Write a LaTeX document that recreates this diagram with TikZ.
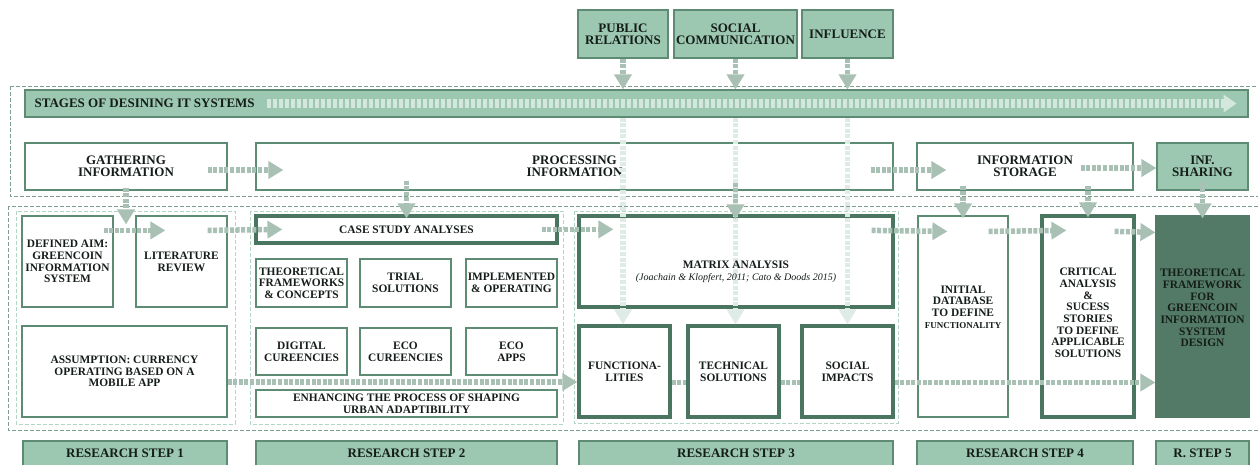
\documentclass[tikz,border=0pt]{standalone}
\usepackage{fontspec}
\setmainfont{Liberation Serif}
\usetikzlibrary{arrows.meta,calc,positioning}
\definecolor{Sage}{HTML}{9CC7B0}
\definecolor{Pine}{HTML}{5E8B73}
\definecolor{PineDeep}{HTML}{4A7560}
\definecolor{Forest}{HTML}{537A67}
\definecolor{Smoke}{HTML}{A8C1B4}
\definecolor{Haze}{HTML}{DFECE5}
\definecolor{Foam}{HTML}{D3E7DC}
\definecolor{Frame}{HTML}{7E9E8E}
\definecolor{FrameLight}{HTML}{B3D6C5}
\definecolor{Night}{HTML}{151D19}
\tikzset{
  bigfont/.style={font=\fontsize{13}{11.6}\selectfont\bfseries},
  smallfont/.style={font=\fontsize{11.4}{11.7}\selectfont\bfseries},
  sagebox/.style={
    draw=Pine, line width=1.2pt, fill=Sage, text=Night,
    inner sep=0pt, align=center, bigfont
  },
  plainbox/.style={
    draw=Pine, line width=1.2pt, fill=white, text=Night,
    inner sep=0pt, align=center, smallfont
  },
  heavybox/.style={
    draw=PineDeep, line width=3.2pt, fill=white, text=Night,
    inner sep=0pt, align=center, smallfont
  },
  darkbox/.style={
    draw=Forest, line width=1.2pt, fill=Forest, inner sep=0pt
  },
  stageframe/.style={draw=Frame, line width=0.9pt, dash pattern=on 4pt off 2pt},
  stepframe/.style={draw=FrameLight, line width=0.9pt, dash pattern=on 4pt off 2pt},
  flow/.style={-{Triangle[length=15pt,width=17pt]}, draw=Smoke,
    line width=5.5pt, dash pattern=on 4pt off 1.6pt},
  faintflow/.style={flow, draw=Haze},
  barflow/.style={-{Triangle[length=13pt,width=17pt]}, draw=Foam,
    line width=9pt, dash pattern=on 4pt off 2pt},
  linkflow/.style={draw=Smoke, line width=5.5pt, dash pattern=on 4pt off 1.6pt}
}
\begin{document}
\begin{tikzpicture}[x=1pt,y=-1pt]
  \useasboundingbox[fill=white] (0,0) rectangle (1258,464);
  \draw[stageframe] (10,86) rectangle (1270,196);
  \draw[stageframe] (8,206) rectangle (1270,430);
  \draw[stepframe] (16,211) rectangle (235,424);
  \draw[stepframe] (250,211) rectangle (563,424);
  \draw[stepframe] (574,211) rectangle (898,423);

  \node[sagebox,minimum width=90,minimum height=48] (pr) at (623,34) {PUBLIC\\RELATIONS};
  \node[sagebox,minimum width=123,minimum height=48] (social) at (735.5,34) {SOCIAL\\COMMUNICATION};
  \node[sagebox,minimum width=91,minimum height=48] (infl) at (847.5,34) {INFLUENCE};

  \node[sagebox,minimum width=1223,minimum height=27] (bar) at (636.5,103.5) {};
  \node[bigfont,text=Night,inner sep=0pt,right=10pt of bar.west] (stagelabel) {STAGES OF DESINING IT SYSTEMS};

  \node[plainbox,bigfont,minimum width=202,minimum height=47] (gather) at (126,166.5) {GATHERING\\INFORMATION};
  \node[plainbox,bigfont,minimum width=637,minimum height=47] (proc) at (574.5,166.5) {PROCESSING\\INFORMATION};
  \node[plainbox,bigfont,minimum width=216,minimum height=47] (store) at (1025,166.5) {INFORMATION\\STORAGE};
  \node[sagebox,minimum width=91,minimum height=47] (share) at (1202.5,166.5) {INF.\\SHARING};

  \node[plainbox,minimum width=91,minimum height=91] (aim) at (67.5,261.5) {DEFINED AIM:\\GREENCOIN\\INFORMATION\\SYSTEM};
  \node[plainbox,minimum width=91,minimum height=91] (litrev) at (181.5,261.5) {LITERATURE\\REVIEW};
  \node[plainbox,minimum width=205,minimum height=91] (assume) at (124.5,371.5) {ASSUMPTION: CURRENCY\\OPERATING BASED ON A\\MOBILE APP};

  \node[heavybox,minimum width=301,minimum height=27] (cases) at (406.5,229.5) {CASE STUDY ANALYSES};
  \node[plainbox,minimum width=91,minimum height=48] (theory) at (301.5,283) {THEORETICAL\\FRAMEWORKS\\\& CONCEPTS};
  \node[plainbox,minimum width=91,minimum height=48] (trial) at (405.5,283) {TRIAL\\SOLUTIONS};
  \node[plainbox,minimum width=91,minimum height=48] (implem) at (511.5,283) {IMPLEMENTED\\\& OPERATING};
  \node[plainbox,minimum width=91,minimum height=47] (digital) at (301.5,351.5) {DIGITAL\\CUREENCIES};
  \node[plainbox,minimum width=91,minimum height=47] (ecocur) at (405.5,351.5) {ECO\\CUREENCIES};
  \node[plainbox,minimum width=91,minimum height=47] (ecoapp) at (511.5,351.5) {ECO\\APPS};
  \node[plainbox,minimum width=301,minimum height=27] (enhance) at (406.5,403.5) {ENHANCING THE PROCESS OF SHAPING\\URBAN ADAPTIBILITY};

  \node[heavybox,minimum width=314,minimum height=91] (matrix) at (736,261.5) {};
  \node[heavybox,minimum width=91,minimum height=91] (func) at (624.5,371.5) {FUNCTIONA-\\LITIES};
  \node[heavybox,minimum width=91,minimum height=91] (tech) at (733.5,371.5) {TECHNICAL\\SOLUTIONS};
  \node[heavybox,minimum width=91,minimum height=91] (impact) at (847.5,371.5) {SOCIAL\\IMPACTS};

  \node[plainbox,minimum width=90,minimum height=201] (dbase) at (963,316.5) {};
  \node[heavybox,minimum width=92,minimum height=201] (critic) at (1088,316.5) {};
  \node[darkbox,minimum width=93,minimum height=201] (design) at (1202.5,316.5) {};

  \node[sagebox,minimum width=204,minimum height=25] (step1) at (125,453.5) {RESEARCH STEP 1};
  \node[sagebox,minimum width=301,minimum height=25] (step2) at (406.5,453.5) {RESEARCH STEP 2};
  \node[sagebox,minimum width=314,minimum height=25] (step3) at (736,453.5) {RESEARCH STEP 3};
  \node[sagebox,minimum width=216,minimum height=25] (step4) at (1025,453.5) {RESEARCH STEP 4};
  \node[sagebox,minimum width=93,minimum height=25] (step5) at (1202.5,453.5) {R. STEP 5};

  \draw[barflow] ($(bar.west)+(243,0)$) -- ($(bar.east)+(-12,0)$);
  \foreach \src/\dst in {pr/func,social/tech,infl/impact}{
    \draw[faintflow] (\src.south |- bar.south) -- (\src.south |- \dst.north);
    \draw[flow] (\src.south) -- (\src.south |- bar.north);
  }
  \draw[flow] ($(social.south |- proc.south)+(0,-8)$) -- ($(social.south |- matrix.north)+(0,5)$);
  \draw[flow] ($(gather.south)+(0,-3)$) -- ($(gather.south |- aim.north)+(0,9)$);
  \draw[flow] ($(cases.north |- proc.south)+(0,-10)$) -- ($(cases.north)+(0,4)$);
  \draw[flow] ($(dbase.north |- store.south)+(0,-5)$) -- ($(dbase.north)+(0,3)$);
  \draw[flow] ($(critic.north |- store.south)+(0,-5)$) -- ($(critic.north)+(0,3)$);
  \draw[flow] ($(design.north |- share.south)+(0,-8)$) -- ($(design.north)+(0,3)$);

  \draw[flow] ($(gather.east)+(-20,3.5)$) -- ($(proc.west)+(28,3.5)$);
  \draw[flow] ($(proc.east)+(-23,3.5)$) -- ($(store.west)+(30,3.5)$);
  \draw[flow] ($(store.east)+(-53,1.5)$) -- ($(share.west)+(0,1.5)$);

  \draw[flow] ($(aim.north east)+(-10,15)$) -- ($(litrev.north west)+(30,15)$);
  \draw[flow] ($(litrev.north east)+(-20,15)$) -- ($(cases.north west)+(28,15)$);
  \draw[flow] ($(cases.north east)+(-17,15)$) -- ($(matrix.north west)+(36,15)$);
  \draw[flow] ($(matrix.north east)+(-23,16)$) -- ($(dbase.north west)+(30,16)$);
  \draw[flow] ($(dbase.north east)+(-20,16)$) -- ($(critic.north west)+(26,16)$);
  \draw[flow] ($(critic.north east)+(-21,17)$) -- ($(design.north west)+(0,17)$);

  \draw[flow] ($(assume.east)+(0,10.5)$) -- ($(func.west)+(0,10.5)$);
  \draw[linkflow] ($(func.east)+(0,11)$) -- ($(tech.west)+(0,11)$);
  \draw[linkflow] ($(tech.east)+(0,11)$) -- ($(impact.west)+(0,11)$);
  \draw[flow] ($(impact.east)+(0,11)$) -- ($(impact.east -| design.west)+(0,11)$);

  \node[smallfont,text=Night,align=center,inner sep=0pt] (matrixtext) at ($(matrix.center)+(0,10)$)
    {MATRIX ANALYSIS\\{\fontsize{10}{12}\selectfont\mdseries\itshape (Joachain \& Klopfert, 2011; Cato \& Doods 2015)}};
  \node[smallfont,text=Night,align=center,inner sep=0pt] (dbasetext) at ($(dbase.center)+(0,-9.5)$)
    {INITIAL\\DATABASE\\TO DEFINE\\{\fontsize{9}{11.7}\selectfont FUNCTIONALITY}};
  \node[smallfont,text=Night,align=center,inner sep=0pt] (critictext) at ($(critic.center)+(0,-3.5)$)
    {CRITICAL\\ANALYSIS\\\&\\SUCESS\\STORIES\\TO DEFINE\\APPLICABLE\\SOLUTIONS};
  \node[smallfont,text=Night,align=center,inner sep=0pt] (designtext) at ($(design.center)+(0,-8.5)$)
    {THEORETICAL\\FRAMEWORK\\FOR\\GREENCOIN\\INFORMATION\\SYSTEM\\DESIGN};
\end{tikzpicture}
\end{document}
